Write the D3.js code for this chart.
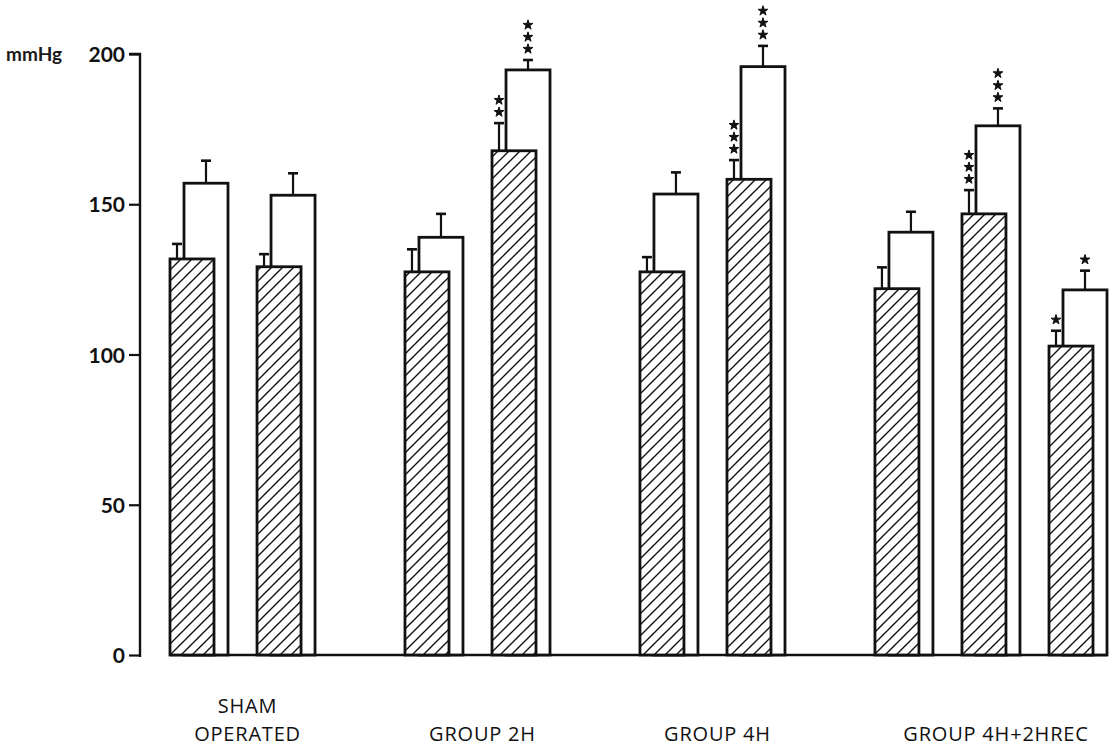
<!DOCTYPE html>
<html>
<head>
<meta charset="utf-8">
<script src="https://cdn.jsdelivr.net/npm/d3@7"></script>
<style>
  html, body { margin: 0; padding: 0; background: #fff; }
  svg { display: block; }
</style>
</head>
<body>
<svg id="chart" width="1109" height="747"></svg>
<script>
// ---- data ----
const groupLabels = [["SHAM", "OPERATED"], ["GROUP 2H"], ["GROUP 4H"], ["GROUP 4H+2HREC"]];
const pairGroup   = [0, 0, 1, 1, 2, 2, 3, 3, 3];
const hatchedMean = [131.8, 129.2, 127.5, 167.8, 127.5, 158.3, 121.9, 146.8, 102.8];
const hatchedSE   = [5.0, 4.2, 7.5, 9.2, 4.9, 6.4, 7.1, 7.9, 5.1];
const openMean    = [157.0, 153.0, 139.0, 194.7, 153.4, 195.8, 140.7, 176.1, 121.5];
const openSE      = [7.5, 7.3, 7.8, 3.3, 7.2, 6.9, 6.8, 5.8, 6.4];
const hatchedStars = [0, 0, 0, 2, 0, 3, 0, 3, 1];
const openStars    = [0, 0, 0, 3, 0, 3, 0, 3, 1];
const yTicks = [0, 50, 100, 150, 200];
const yUnit = "mmHg";

// ---- layout ----
const svg = d3.select("#chart");
const groupGap = 0.7;          // extra slot spacing between groups
const barW = 44, barOffset = 14;

const slots = pairGroup.map((g, i) => i + g * groupGap);
const x = d3.scaleLinear().domain([0, d3.max(slots)]).range([170, 1049]);
const y = d3.scaleLinear().domain([0, 200]).range([655, 54]);

const defs = svg.append("defs");
const pat = defs.append("pattern")
  .attr("id", "hatch").attr("patternUnits", "userSpaceOnUse")
  .attr("width", 11).attr("height", 11);
pat.append("rect").attr("width", 11).attr("height", 11).attr("fill", "#fff");
pat.append("path")
  .attr("d", "M-1,1 l2,-2 M0,11 l11,-11 M10,12 l2,-2")
  .attr("stroke", "#111").attr("stroke-width", 1.4);

const pairs = pairGroup.map((g, i) => ({
  i, g, s: slots[i],
  hm: hatchedMean[i], hse: hatchedSE[i], om: openMean[i], ose: openSE[i],
  hs: hatchedStars[i], os: openStars[i]
}));

// y axis
const axisX = 140;
const yAxis = svg.append("g").attr("transform", `translate(${axisX},0)`)
  .call(d3.axisLeft(y).tickValues(yTicks).tickSize(11).tickPadding(4).tickFormat(d3.format("d")));
yAxis.select(".domain").attr("d", `M-11,${y(200)}H0V${y(0) + 2}`).attr("stroke", "#111").attr("stroke-width", 2.4);
yAxis.selectAll(".tick line").attr("stroke", "#111").attr("stroke-width", 2.2);
yAxis.selectAll(".tick text")
  .attr("font-family", "Lato, 'Open Sans', sans-serif").attr("font-weight", "bold")
  .attr("font-size", 21).attr("fill", "#111").attr("dy", "0.36em");

svg.append("text").text(yUnit)
  .attr("x", 6).attr("y", y(200) + 7)
  .attr("font-family", "Lato, 'Open Sans', sans-serif").attr("font-weight", "bold")
  .attr("font-size", 19).attr("fill", "#1a1a1a");

// baseline
svg.append("line")
  .attr("x1", x(0)).attr("x2", x(d3.max(slots)) + barOffset + barW)
  .attr("y1", y(0)).attr("y2", y(0))
  .attr("stroke", "#111").attr("stroke-width", 2.6);

const bars = svg.append("g");
const pg = bars.selectAll("g.pair").data(pairs).join("g").attr("class", "pair");

// open (white) bars behind
pg.append("rect")
  .attr("x", d => x(d.s) + barOffset).attr("width", barW)
  .attr("y", d => y(d.om)).attr("height", d => y(0) - y(d.om))
  .attr("fill", "#fff").attr("stroke", "#111").attr("stroke-width", 2.8);

// hatched bars in front
pg.append("rect")
  .attr("x", d => x(d.s)).attr("width", barW)
  .attr("y", d => y(d.hm)).attr("height", d => y(0) - y(d.hm))
  .attr("fill", "url(#hatch)").attr("stroke", "#111").attr("stroke-width", 2.8);

function errorBar(sel, cx, top, bot) {
  sel.append("line").attr("x1", cx).attr("x2", cx).attr("y1", bot).attr("y2", top)
    .attr("stroke", "#111").attr("stroke-width", 2.2);
  sel.append("line").attr("x1", cx - 5).attr("x2", cx + 5).attr("y1", top).attr("y2", top)
    .attr("stroke", "#111").attr("stroke-width", 2.6);
}
const star = d3.symbol().type(d3.symbolStar).size(30);
function stars(sel, cx, top, n) {
  for (let k = 0; k < n; k++) {
    sel.append("path").attr("d", star)
      .attr("transform", `translate(${cx},${top - 11 - k * 12})`)
      .attr("fill", "#111").attr("stroke", "#111").attr("stroke-width", 1)
      .attr("stroke-linejoin", "round");
  }
}

pg.each(function(d) {
  const s = d3.select(this);
  const ox = x(d.s) + barOffset + barW / 2;
  const hx = x(d.s) + barOffset / 2;
  errorBar(s, ox, y(d.om + d.ose), y(d.om));
  errorBar(s, hx, y(d.hm + d.hse), y(d.hm));
  stars(s, ox, y(d.om + d.ose), d.os);
  stars(s, hx, y(d.hm + d.hse), d.hs);
});

// category labels
const labels = svg.append("g");
groupLabels.forEach((lines, g) => {
  const ss = slots.filter((s, i) => pairGroup[i] === g);
  const cx = (x(d3.min(ss)) + x(d3.max(ss)) + barOffset + barW) / 2 + 5;
  const t = labels.append("text")
    .attr("text-anchor", "middle")
    .attr("font-family", "'Open Sans', Lato, sans-serif")
    .attr("font-weight", 500)
    .attr("letter-spacing", 0.8)
    .attr("font-size", 20).attr("fill", "#111");
  const startY = lines.length > 1 ? 713 : 741;
  lines.forEach((ln, k) => {
    t.append("tspan").attr("x", cx).attr("y", startY + k * 28).text(ln);
  });
});
</script>
</body>
</html>
